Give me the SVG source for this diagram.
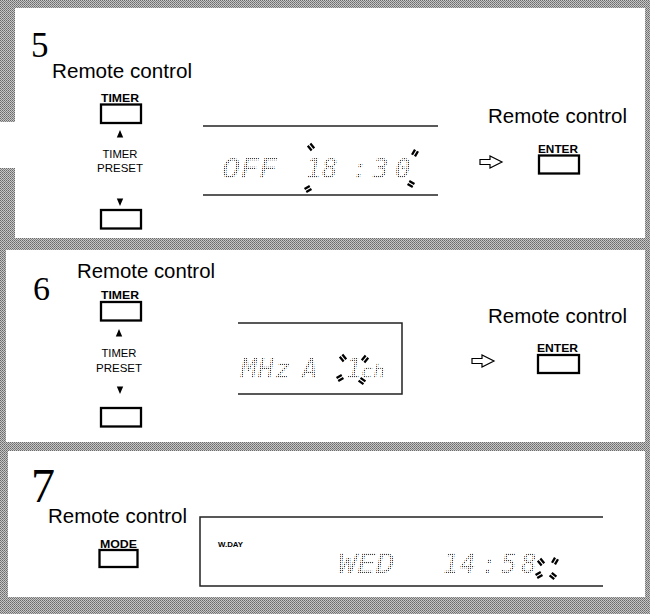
<svg xmlns="http://www.w3.org/2000/svg" xmlns:xlink="http://www.w3.org/1999/xlink" width="650" height="614" viewBox="0 0 650 614">
<defs>
<pattern id="gray" patternUnits="userSpaceOnUse" width="2" height="2">
<rect width="2" height="2" fill="#c6c6c6"/>
<rect width="1" height="1" fill="#6a6a6a"/>
<rect x="1" y="1" width="1" height="1" fill="#808080"/>
</pattern>
<pattern id="dots" patternUnits="userSpaceOnUse" width="2" height="2">
<rect width="1.1" height="1.1" fill="#3a3a3a"/>
</pattern>
<g id="flash">
<path d="M-1.7,-3 V3 M1.7,-3 V3" stroke="#000" stroke-width="2.3" fill="none"/>
</g>
<path id="arrow" d="M0,-2.5 H10 V-6 L22,0 L10,6 V2.5 H0 Z" fill="#fff" stroke="#000" stroke-width="1.2"/>
<polygon id="up" points="0,-4 3.2,3.5 -3.2,3.5" fill="#000"/>
<polygon id="down" points="0,4 3.2,-3.5 -3.2,-3.5" fill="#000"/>
</defs>
<style>
.lbl{font-family:"Liberation Sans",Arial,sans-serif;fill:#000}
.rc{font-size:20px}
.bold{font-weight:bold;font-size:10.5px}
.small{font-size:10.5px}
.num{font-family:"Liberation Serif","Times New Roman",serif;fill:#000}
.btn{fill:#fff;stroke:#000;stroke-width:2.3}
.lcd{font-family:"DejaVu Sans Mono",monospace;font-style:italic;font-size:26px;fill:url(#dots)}
.ln{stroke:#222;stroke-width:1.5;fill:none}
</style>

<!-- frame -->
<rect x="0" y="0" width="650" height="614" fill="url(#gray)"/>
<rect x="0" y="122" width="15" height="46" fill="#fff"/>
<rect x="15" y="8" width="630" height="230" fill="#fff"/>
<rect x="6" y="250" width="639" height="192" fill="#fff"/>
<rect x="8" y="451" width="637" height="146" fill="#fff"/>

<!-- Step 5 -->
<g id="step5">
<text class="num" x="31" y="57" font-size="35">5</text>
<text class="lbl rc" x="52" y="78" textLength="140" lengthAdjust="spacingAndGlyphs">Remote control</text>
<g id="s5-timer-up">
<text class="lbl bold" x="101" y="102" textLength="38" lengthAdjust="spacingAndGlyphs">TIMER</text>
<rect class="btn" x="101" y="104.5" width="40" height="18.5"/>
<use xlink:href="#up" x="120" y="134"/>
</g>
<text class="lbl small" x="120" y="158" text-anchor="middle" textLength="35" lengthAdjust="spacingAndGlyphs">TIMER</text>
<text class="lbl small" x="120" y="172" text-anchor="middle" textLength="46" lengthAdjust="spacingAndGlyphs">PRESET</text>
<g id="s5-timer-down">
<use xlink:href="#down" x="120" y="202"/>
<rect class="btn" x="101" y="210" width="40" height="18.5"/>
</g>
<g id="s5-display">
<line class="ln" x1="203" y1="126" x2="438" y2="126"/>
<line class="ln" x1="203" y1="195" x2="438" y2="195"/>
<text class="lcd" x="222" y="178" textLength="55" lengthAdjust="spacingAndGlyphs">OFF</text>
<text class="lcd" y="178"><tspan x="306">1</tspan><tspan x="322">8</tspan><tspan x="352">:</tspan><tspan x="373">3</tspan><tspan x="395">0</tspan></text>
<use xlink:href="#flash" transform="translate(311,147) rotate(-40)"/>
<use xlink:href="#flash" transform="translate(308,189) rotate(60)"/>
<use xlink:href="#flash" transform="translate(415,153) rotate(30)"/>
<use xlink:href="#flash" transform="translate(411,184) rotate(-60)"/>
</g>
<use xlink:href="#arrow" x="480" y="162"/>
<g id="s5-enter">
<text class="lbl rc" x="488" y="123" textLength="139" lengthAdjust="spacingAndGlyphs">Remote control</text>
<text class="lbl bold" x="538" y="153" textLength="40" lengthAdjust="spacingAndGlyphs">ENTER</text>
<rect class="btn" x="539" y="155.5" width="40" height="18"/>
</g>
</g>

<!-- Step 6 -->
<g id="step6">
<text class="num" x="33" y="300" font-size="34">6</text>
<text class="lbl rc" x="77" y="278" textLength="138" lengthAdjust="spacingAndGlyphs">Remote control</text>
<g id="s6-timer-up">
<text class="lbl bold" x="101" y="299" textLength="38" lengthAdjust="spacingAndGlyphs">TIMER</text>
<rect class="btn" x="101" y="302" width="40" height="18.5"/>
<use xlink:href="#up" x="119" y="333"/>
</g>
<text class="lbl small" x="119" y="357" text-anchor="middle" textLength="35" lengthAdjust="spacingAndGlyphs">TIMER</text>
<text class="lbl small" x="119" y="372" text-anchor="middle" textLength="46" lengthAdjust="spacingAndGlyphs">PRESET</text>
<g id="s6-timer-down">
<use xlink:href="#down" x="120" y="390"/>
<rect class="btn" x="101" y="408" width="40" height="18.5"/>
</g>
<g id="s6-display">
<path class="ln" d="M238,323 H402 V394 H238"/>
<text class="lcd" y="378"><tspan x="241">M</tspan><tspan x="258">H</tspan><tspan x="275">z</tspan><tspan x="302">A</tspan></text>
<text class="lcd" y="378"><tspan x="346">1</tspan><tspan x="361" font-size="20">c</tspan><tspan x="373" font-size="20">h</tspan></text>
<use xlink:href="#flash" transform="translate(343,358) rotate(-40)"/>
<use xlink:href="#flash" transform="translate(365,359) rotate(40)"/>
<use xlink:href="#flash" transform="translate(340,378) rotate(60)"/>
<use xlink:href="#flash" transform="translate(362,381) rotate(-55)"/>
</g>
<use xlink:href="#arrow" x="472" y="361"/>
<g id="s6-enter">
<text class="lbl rc" x="488" y="323" textLength="139" lengthAdjust="spacingAndGlyphs">Remote control</text>
<text class="lbl bold" x="537" y="352" textLength="41" lengthAdjust="spacingAndGlyphs">ENTER</text>
<rect class="btn" x="538" y="355" width="41" height="18"/>
</g>
</g>

<!-- Step 7 -->
<g id="step7">
<text class="num" x="31" y="502" font-size="48">7</text>
<text class="lbl rc" x="48" y="523" textLength="139" lengthAdjust="spacingAndGlyphs">Remote control</text>
<g id="s7-mode">
<text class="lbl bold" x="100" y="548" textLength="37" lengthAdjust="spacingAndGlyphs">MODE</text>
<rect class="btn" x="99.5" y="550" width="38" height="17"/>
</g>
<g id="s7-display">
<path class="ln" d="M603,517 H200 V586 H603"/>
<text class="lbl" x="218" y="547" font-size="7" font-weight="bold" textLength="25" lengthAdjust="spacingAndGlyphs">W.DAY</text>
<text class="lcd" x="338" y="573" textLength="57" lengthAdjust="spacingAndGlyphs">WED</text>
<text class="lcd" y="573"><tspan x="443">1</tspan><tspan x="460">4</tspan><tspan x="481">:</tspan><tspan x="501">5</tspan><tspan x="521">8</tspan></text>
<use xlink:href="#flash" transform="translate(541,562) rotate(-40)"/>
<use xlink:href="#flash" transform="translate(555,561) rotate(30)"/>
<use xlink:href="#flash" transform="translate(539,575) rotate(60)"/>
<use xlink:href="#flash" transform="translate(553,576) rotate(-50)"/>
</g>
</g>
</svg>
